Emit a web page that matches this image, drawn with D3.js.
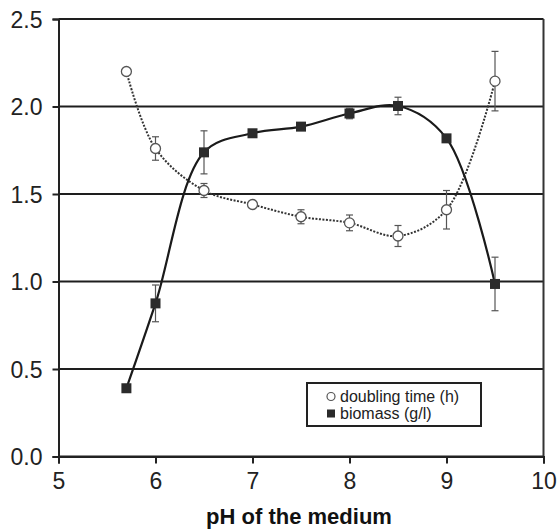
<!DOCTYPE html>
<html>
<head>
<meta charset="utf-8">
<script src="https://cdn.jsdelivr.net/npm/d3@7/dist/d3.min.js"></script>
<style>
html,body{margin:0;padding:0;background:#fff;}
svg{display:block;font-family:"Liberation Sans",Arial,sans-serif;}
</style>
</head>
<body>
<svg id="chart" width="557" height="530"></svg>
<script>
const pH = [5.7, 6.0, 6.5, 7.0, 7.5, 8.0, 8.5, 9.0, 9.5];
const doublingTime = [2.20, 1.76, 1.52, 1.44, 1.37, 1.335, 1.26, 1.41, 2.145];
const doublingErr = [0, 0.067, 0.04, 0.015, 0.04, 0.045, 0.06, 0.11, 0.17];
const biomass = [0.39, 0.875, 1.738, 1.847, 1.885, 1.96, 2.003, 1.818, 0.986];
const biomassErr = [0, 0.105, 0.123, 0.015, 0.02, 0.03, 0.05, 0.015, 0.153];
const xTicks = [5, 6, 7, 8, 9, 10];
const yTicks = [0.0, 0.5, 1.0, 1.5, 2.0, 2.5];
const xTitle = "pH of the medium";
const legendLabels = ["doubling time (h)", "biomass (g/l)"];

const svg = d3.select("#chart");
const L = 58.5, R = 543.5, T = 19, B = 456.5;
const x = d3.scaleLinear().domain([5, 10]).range([L, R]);
const y = d3.scaleLinear().domain([0, 2.5]).range([B, T]);

// gridlines
svg.append("g").selectAll("line").data(yTicks).join("line")
  .attr("x1", L).attr("x2", R)
  .attr("y1", d => y(d)).attr("y2", d => y(d))
  .attr("stroke", "#1e1e1e").attr("stroke-width", 2);

// frame (right + top)
svg.append("line").attr("x1", R).attr("x2", R).attr("y1", T).attr("y2", B)
  .attr("stroke", "#333").attr("stroke-width", 2);

// axes
const yAxis = d3.axisLeft(y).tickValues(yTicks).tickFormat(d3.format(".1f")).tickSize(6).tickPadding(10);
const gy = svg.append("g").attr("transform", `translate(${L},0)`).call(yAxis);
const xAxis = d3.axisBottom(x).tickValues(xTicks).tickFormat(d3.format("d")).tickSize(7).tickPadding(9);
const gx = svg.append("g").attr("transform", `translate(0,${B})`).call(xAxis);
[gx, gy].forEach(g => {
  g.select(".domain").attr("stroke", "#222").attr("stroke-width", 2);
  g.selectAll(".tick line").attr("stroke", "#222").attr("stroke-width", 2);
  g.selectAll(".tick text").attr("fill", "#222").attr("font-size", 23)
    .attr("font-family", "Liberation Sans, Arial, sans-serif");
});
gy.selectAll(".tick text").attr("dy", "0.36em");
gx.selectAll(".tick text").attr("dy", "0.72em");

// x title
svg.append("text").attr("x", 299).attr("y", 524).attr("text-anchor", "middle")
  .attr("font-size", 22).attr("font-weight", "bold").attr("fill", "#111").text(xTitle);

// lines
const dtPts = pH.map((p, i) => [p, doublingTime[i]]);
const bmPts = pH.map((p, i) => [p, biomass[i]]);
const lineGen = d3.line().x(d => x(d[0])).y(d => y(d[1])).curve(d3.curveCatmullRom.alpha(0.5));

svg.append("path").attr("d", lineGen(dtPts)).attr("fill", "none")
  .attr("stroke", "#333").attr("stroke-width", 2).attr("stroke-dasharray", "2,1.5");
svg.append("path").attr("d", lineGen(bmPts)).attr("fill", "none")
  .attr("stroke", "#1a1a1a").attr("stroke-width", 2.2);

// error bars
function errorBars(vals, errs) {
  const g = svg.append("g").attr("stroke", "#555").attr("stroke-width", 1.2);
  pH.forEach((p, i) => {
    if (!errs[i]) return;
    const cx = x(p), y1 = y(vals[i] - errs[i]), y2 = y(vals[i] + errs[i]);
    g.append("line").attr("x1", cx).attr("x2", cx).attr("y1", y1).attr("y2", y2);
    g.append("line").attr("x1", cx - 3.5).attr("x2", cx + 3.5).attr("y1", y1).attr("y2", y1);
    g.append("line").attr("x1", cx - 3.5).attr("x2", cx + 3.5).attr("y1", y2).attr("y2", y2);
  });
}
errorBars(doublingTime, doublingErr);
errorBars(biomass, biomassErr);

// markers
svg.append("g").selectAll("circle").data(dtPts).join("circle")
  .attr("cx", d => x(d[0])).attr("cy", d => y(d[1])).attr("r", 5)
  .attr("fill", "#fff").attr("stroke", "#555").attr("stroke-width", 1.3);
svg.append("g").selectAll("rect").data(bmPts).join("rect")
  .attr("x", d => x(d[0]) - 5).attr("y", d => y(d[1]) - 5)
  .attr("width", 10).attr("height", 10).attr("fill", "#2b2b2b");

// legend
const lg = svg.append("g");
lg.append("rect").attr("x", 307).attr("y", 383).attr("width", 174).attr("height", 43)
  .attr("fill", "#fff").attr("stroke", "#222").attr("stroke-width", 2);
lg.append("circle").attr("cx", 331).attr("cy", 396.5).attr("r", 4)
  .attr("fill", "#fff").attr("stroke", "#555").attr("stroke-width", 1.2);
lg.append("rect").attr("x", 327).attr("y", 409.5).attr("width", 8).attr("height", 8).attr("fill", "#2b2b2b");
lg.selectAll("text").data(legendLabels).join("text")
  .attr("x", 340).attr("y", (d, i) => 401.5 + i * 17)
  .attr("font-size", 16).attr("fill", "#222").text(d => d);
</script>
</body>
</html>
